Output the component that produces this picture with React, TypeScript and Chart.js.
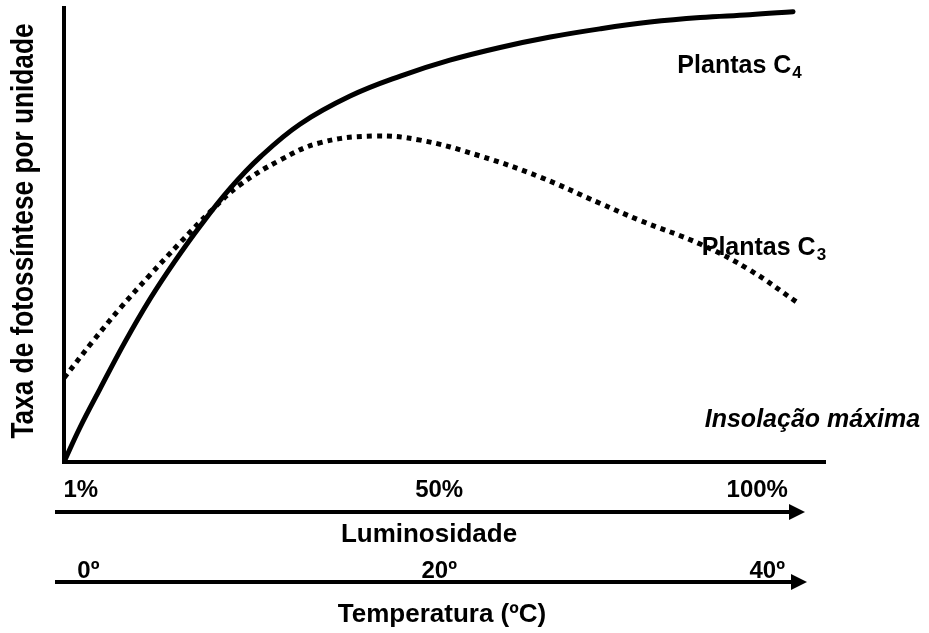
import React, { useEffect, useRef } from "react";
import { Chart, registerables } from "chart.js";

Chart.register(...registerables);

// Curve C4 (solid) — x: relative position along the axis (0–100), y: relative rate (0–100)
const c4X = [0, 2.1, 4.7, 8.0, 11.3, 14.6, 17.9, 21.8, 25.8, 31.0, 37.6, 44.2, 50.7, 57.3, 63.9, 70.4, 77.0, 83.6, 90.1, 95.8];
const c4Y = [0, 7.6, 16.0, 26.4, 35.9, 44.3, 52.0, 60.2, 67.2, 74.4, 80.6, 85.0, 88.5, 91.3, 93.6, 95.4, 96.9, 97.9, 98.5, 99.2];

// Curve C3 (dotted)
const c3X = [0, 3.7, 7.4, 11.3, 15.2, 19.2, 23.1, 28.4, 33.6, 40.6, 46.8, 54.7, 62.5, 70.4, 75.7, 83.6, 90.1, 96.3];
const c3Y = [18.5, 26.4, 33.9, 41.2, 48.2, 55.1, 61.0, 66.5, 70.3, 71.8, 70.9, 67.4, 62.8, 57.0, 53.2, 48.0, 42.3, 35.2];

// Bottom axis tick labels and their positions along the x scale
const lumTicks = ["1%", "50%", "100%"];
const lumTickPos = [2.2, 49.3, 91.1];
const tempTicks = ["0º", "20º", "40º"];
const tempTickPos = [3.2, 49.3, 92.4];

const yTitle = "Taxa de fotossíntese por unidade";
const lumTitle = "Luminosidade";
const tempTitle = "Temperatura (ºC)";
const insolLabel = "Insolação máxima";

const FONT = "'Liberation Sans', Arial, Helvetica, sans-serif";

const textPlugin = {
  id: "textPlugin",
  afterDraw(chart: any) {
    const ctx = chart.ctx as CanvasRenderingContext2D;
    const xs = chart.scales.x;
    const ys = chart.scales.y;
    const area = chart.chartArea;
    ctx.save();
    ctx.fillStyle = "#000";
    ctx.strokeStyle = "#000";

    // Y title (condensed, rotated)
    ctx.save();
    ctx.translate(33, (area.top + area.bottom) / 2 - 4);
    ctx.rotate(-Math.PI / 2);
    ctx.scale(0.82, 1);
    ctx.font = `bold 32px ${FONT}`;
    ctx.textAlign = "center";
    ctx.textBaseline = "alphabetic";
    ctx.fillText(yTitle, 0, 0);
    ctx.restore();

    const drawPlantas = (xv: number, yv: number, sub: string) => {
      const px = xs.getPixelForValue(xv);
      const py = ys.getPixelForValue(yv);
      ctx.font = `bold 25px ${FONT}`;
      ctx.textAlign = "left";
      ctx.textBaseline = "alphabetic";
      const main = "Plantas C";
      ctx.fillText(main, px, py);
      const w = ctx.measureText(main).width;
      ctx.font = `bold 17px ${FONT}`;
      ctx.fillText(sub, px + w + 1, py + 5);
    };
    drawPlantas(80.6, 85.7, "4");
    drawPlantas(83.8, 45.6, "3");

    ctx.font = `italic bold 25px ${FONT}`;
    ctx.textAlign = "right";
    ctx.fillText(insolLabel, xs.getPixelForValue(112.5), ys.getPixelForValue(7.7));

    const arrow = (y: number, x0: number, x1: number) => {
      ctx.lineWidth = 4;
      ctx.beginPath();
      ctx.moveTo(x0, y);
      ctx.lineTo(x1 - 12, y);
      ctx.stroke();
      ctx.beginPath();
      ctx.moveTo(x1, y);
      ctx.lineTo(x1 - 16, y - 8);
      ctx.lineTo(x1 - 16, y + 8);
      ctx.closePath();
      ctx.fill();
    };
    const by = area.bottom;
    arrow(by + 50, 55, 805);
    arrow(by + 120, 55, 807);

    ctx.textAlign = "center";
    ctx.font = `bold 24px ${FONT}`;
    lumTicks.forEach((t, i) => ctx.fillText(t, xs.getPixelForValue(lumTickPos[i]), by + 35));
    tempTicks.forEach((t, i) => ctx.fillText(t, xs.getPixelForValue(tempTickPos[i]), by + 116));
    ctx.font = `bold 26px ${FONT}`;
    ctx.fillText(lumTitle, 429, by + 80);
    ctx.fillText(tempTitle, 442, by + 160);

    ctx.restore();
  },
};

export default function App() {
  const ref = useRef<HTMLCanvasElement | null>(null);
  useEffect(() => {
    document.body.style.margin = "0";
    const canvas = ref.current;
    if (!canvas) return;
    const chart = new Chart(canvas, {
      type: "line",
      data: {
        datasets: [
          {
            label: "Plantas C4",
            data: c4X.map((x, i) => ({ x, y: c4Y[i] })),
            borderColor: "#000",
            borderWidth: 5,
            pointRadius: 0,
            tension: 0.4,
            borderCapStyle: "round",
            fill: false,
          },
          {
            label: "Plantas C3",
            data: c3X.map((x, i) => ({ x, y: c3Y[i] })),
            borderColor: "#000",
            borderWidth: 5,
            borderDash: [5, 5],
            borderCapStyle: "butt",
            pointRadius: 0,
            tension: 0.4,
            fill: false,
          },
        ],
      },
      options: {
        responsive: false,
        animation: false,
        devicePixelRatio: 1,
        layout: { padding: { left: 64, right: 104, top: 8, bottom: 171 } },
        plugins: { legend: { display: false }, tooltip: { enabled: false } },
        scales: {
          x: {
            type: "linear",
            min: 0,
            max: 100,
            grid: { display: false, drawTicks: false },
            ticks: { display: false },
            border: { display: true, color: "#000", width: 4 },
          },
          y: {
            type: "linear",
            min: 0,
            max: 100,
            grid: { display: false, drawTicks: false },
            ticks: { display: false },
            border: { display: true, color: "#000", width: 4 },
          },
        },
      },
      plugins: [textPlugin],
    });
    return () => chart.destroy();
  }, []);
  return (
    <div style={{ width: 929, height: 633, background: "#fff" }}>
      <canvas ref={ref} width={929} height={633} style={{ display: "block" }} />
    </div>
  );
}
